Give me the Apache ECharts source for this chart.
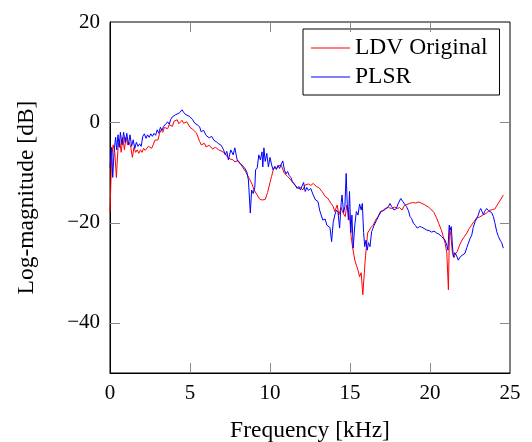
<!DOCTYPE html>
<html>
<head>
<meta charset="utf-8">
<script src="https://cdn.jsdelivr.net/npm/echarts@6/dist/echarts.min.js"></script>
<style>
html,body{margin:0;padding:0;background:#fff;}
#chart{width:532px;height:442px;}
</style>
</head>
<body>
<div id="chart"></div>
<script>
const seriesNames = ['LDV Original', 'PLSR'];
const xTicks = [0, 5, 10, 15, 20, 25];
const yTicks = [-40, -20, 0, 20];

const freqLDV = [0,0.1,0.2,0.3,0.4,0.5,0.6,0.7,0.8,0.9,1.0,1.1,1.2,1.3,1.4,1.5,1.6,1.7,1.8,1.9,2.0,2.1,2.2,2.4,2.6,2.7,2.8,3.0,3.1,3.2,3.3,3.4,3.6,3.7,3.9,4.0,4.2,4.3,4.5,4.6,4.8,5.0,5.2,5.4,5.6,5.7,5.9,6.0,6.2,6.4,6.6,6.8,7.0,7.2,7.3,7.5,7.7,7.8,8.0,8.2,8.4,8.5,8.7,8.9,9.0,9.2,9.35,9.5,9.7,9.85,10.0,10.1,10.2,10.3,10.4,10.5,10.7,10.8,10.9,11.1,11.3,11.45,11.6,11.75,11.9,12.05,12.2,12.4,12.55,12.7,12.9,13.05,13.25,13.45,13.6,13.8,13.95,14.05,14.2,14.3,14.45,14.55,14.7,14.8,14.9,15.0,15.07,15.17,15.3,15.4,15.5,15.6,15.7,15.8,15.95,16.1,16.3,16.45,16.6,16.75,16.9,17.05,17.2,17.4,17.6,17.8,17.95,18.1,18.25,18.4,18.55,18.7,18.9,19.1,19.3,19.5,19.7,19.9,20.05,20.25,20.4,20.55,20.7,20.85,20.95,21.05,21.15,21.22,21.3,21.4,21.5,21.6,21.7,21.85,22.0,22.15,22.3,22.45,22.6,22.75,22.9,23.1,23.3,23.5,23.7,23.9,24.05,24.2,24.4,24.58];
const magLDV = [-18,-7,-4.5,-6,-11,-5,-3.5,-6,-3,-5.5,-3,-4.5,-4,-5,-7,-5,-6,-5.5,-6.2,-5.5,-6,-5.2,-5.6,-4.8,-5.2,-4.5,-3.6,-3.5,-2.2,-1.5,-2.0,-1.0,-1.3,-0.5,-0.8,0.2,0.5,-0.3,0.4,-0.2,0.1,-1.0,-1.5,-2.1,-3.8,-4.5,-4.2,-4.9,-4.6,-5.3,-5.0,-5.5,-5.8,-6.2,-6.8,-7.3,-7.5,-7.9,-7.6,-8.5,-9.5,-10,-11.2,-12.5,-13.5,-14.5,-15.3,-15.5,-15.4,-14,-12,-10.8,-9.5,-8.9,-9.3,-8.8,-8.5,-9.4,-10.2,-10.8,-11.5,-12.2,-12.6,-13.2,-13.0,-13.5,-12.5,-12.3,-12.6,-12.2,-12.8,-13.0,-13.8,-14.8,-15.1,-16.1,-16.8,-17.8,-16.5,-18.5,-17.0,-18.0,-18.8,-16.5,-17.5,-19.8,-22.8,-25.1,-27.5,-28.5,-29.5,-30.8,-30.0,-34.4,-27.5,-22.1,-21.0,-20.5,-19.5,-18.8,-17.8,-17.6,-17.2,-17.0,-17.2,-16.9,-17.2,-17.0,-17.5,-16.6,-16.4,-16.2,-16.0,-16.1,-15.9,-16.2,-16.5,-16.9,-17.3,-18.0,-19.0,-20.2,-21.4,-23.0,-24.2,-26,-33.4,-21.0,-22.5,-26,-27.0,-26.2,-25.8,-24.5,-23.5,-22.8,-22.1,-21.2,-20.5,-19.8,-19.1,-18.9,-18.5,-18.2,-17.6,-17.4,-17.3,-16.5,-15.5,-14.5];

const freqPLSR = [0,0.1,0.17,0.25,0.35,0.42,0.5,0.58,0.65,0.75,0.85,0.95,1.05,1.15,1.25,1.35,1.45,1.55,1.65,1.75,1.85,1.95,2.05,2.15,2.25,2.35,2.45,2.55,2.65,2.75,2.85,2.95,3.05,3.15,3.25,3.35,3.5,3.6,3.7,3.8,3.9,4.0,4.1,4.2,4.35,4.5,4.6,4.7,4.8,4.95,5.05,5.15,5.3,5.45,5.6,5.7,5.85,6.0,6.2,6.35,6.5,6.65,6.8,6.95,7.1,7.2,7.3,7.4,7.55,7.7,7.8,7.95,8.05,8.2,8.35,8.45,8.55,8.65,8.77,8.85,8.95,9.05,9.1,9.2,9.3,9.4,9.5,9.55,9.62,9.7,9.8,9.9,10.0,10.1,10.2,10.3,10.4,10.5,10.6,10.7,10.8,10.9,11.0,11.1,11.2,11.3,11.4,11.5,11.6,11.7,11.8,11.9,12.0,12.1,12.2,12.3,12.4,12.55,12.7,12.85,13.0,13.1,13.2,13.3,13.45,13.55,13.65,13.75,13.85,13.95,14.05,14.15,14.25,14.35,14.45,14.5,14.6,14.68,14.76,14.83,14.9,14.97,15.05,15.12,15.2,15.3,15.4,15.5,15.6,15.7,15.77,15.85,15.92,16.0,16.08,16.15,16.25,16.35,16.5,16.65,16.8,16.95,17.1,17.25,17.4,17.5,17.6,17.75,17.9,18.0,18.17,18.3,18.4,18.53,18.65,18.75,18.85,18.96,19.1,19.2,19.35,19.48,19.6,19.8,19.95,20.1,20.25,20.42,20.55,20.73,20.85,20.94,21.05,21.12,21.2,21.27,21.33,21.4,21.46,21.55,21.65,21.77,21.9,22.0,22.19,22.3,22.4,22.5,22.61,22.7,22.82,22.92,23.02,23.1,23.17,23.25,23.33,23.45,23.54,23.65,23.75,23.85,23.96,24.05,24.17,24.28,24.38,24.48,24.58];
const magPLSR = [-9,-5,-11,-6,-3,-5.5,-2.5,-5,-2,-4.5,-2,-4,-2.2,-4.5,-2.5,-4.8,-3.5,-5.2,-4,-4.8,-4.3,-4.8,-2.8,-2.3,-3.2,-2.5,-3.0,-2.3,-2.8,-2.2,-2.6,-1.5,-2.2,-1.0,-1.6,-0.8,-0.3,0.1,-0.4,0.6,1.1,0.9,1.5,1.3,1.9,2.5,2.0,1.6,1.9,1.2,1.5,0.6,-0.2,-0.5,-0.9,-1.9,-1.6,-2.6,-3.1,-2.8,-3.6,-3.9,-4.3,-4.6,-5.5,-6.5,-5.8,-7.5,-5.5,-6.5,-5.1,-7.5,-8.0,-8.4,-8.9,-9.3,-9.9,-11.5,-18.1,-13.5,-14.2,-13.0,-9.5,-9.1,-6.5,-7.5,-5.9,-8.9,-5.1,-7.8,-6.2,-8.9,-7.0,-8.5,-9.5,-8.8,-9.4,-8.6,-9.2,-8.4,-7.7,-9.5,-10.3,-9.8,-10.6,-11.0,-11.8,-12.2,-12.0,-13.2,-12.8,-13.5,-13.3,-12.0,-13.8,-13.0,-13.6,-13.2,-14.5,-15.5,-15.8,-17.5,-17.8,-19.5,-19.3,-20.5,-20.3,-21.0,-23.8,-20.0,-18.5,-17.5,-18.0,-21.1,-16.0,-14.5,-18.0,-16.8,-10.2,-16.5,-19.5,-13.8,-22.0,-18.5,-25.1,-20.5,-17.8,-18.5,-16.3,-17.5,-16.2,-22.0,-24.8,-23.5,-25.5,-24.0,-24.8,-21.8,-20.6,-19.6,-18.6,-17.8,-17.6,-17.2,-16.8,-16.2,-16.8,-17.5,-17.2,-16.3,-15.2,-15.8,-16.1,-16.8,-17.6,-18.8,-19.2,-20.1,-20.6,-21.1,-20.8,-20.9,-21.2,-21.5,-21.6,-21.9,-21.7,-22.1,-22.3,-22.8,-23.1,-23.5,-24.5,-25.5,-20.5,-21.5,-20.8,-24.5,-26.8,-26.0,-26.5,-27.5,-26.8,-26.5,-26.1,-25.0,-24.1,-23.2,-22.5,-21.0,-19.8,-19.2,-18.5,-17.6,-17.2,-17.8,-18.4,-17.6,-17.2,-17.6,-17.5,-18.0,-18.8,-20.0,-21.8,-22.8,-23.5,-24.0,-25.1];

const FONT = 'Liberation Serif';
const minus = v => String(v).replace('-', '\u2212');
const X_MIN = 0, X_MAX = 25, Y_MIN = -50, Y_MAX = 20;

const chart = echarts.init(document.getElementById('chart'), null, { renderer: 'canvas' });
chart.setOption({
  animation: false,
  backgroundColor: '#fff',
  grid: { left: 110, right: 22, top: 22, bottom: 69, containLabel: false, outerBoundsMode: 'none',
          show: true, borderColor: '#000', borderWidth: 1, backgroundColor: 'transparent' },
  legend: {
    orient: 'vertical', left: 303, top: 29,
    data: seriesNames,
    icon: 'rect',
    itemWidth: 39, itemHeight: 1, itemGap: 5,
    padding: [7, 12, 6, 8],
    borderColor: '#000', borderWidth: 1, borderRadius: 0,
    backgroundColor: '#fff',
    textStyle: { fontFamily: FONT, fontSize: 23.5, color: '#000' }
  },
  xAxis: {
    type: 'value', min: X_MIN, max: X_MAX, interval: 5, position: 'bottom',
    name: 'Frequency [kHz]', nameLocation: 'middle', nameGap: 46,
    nameTextStyle: { fontFamily: FONT, fontSize: 23.5, color: '#000' },
    axisLine: { show: true, onZero: false, lineStyle: { color: '#000' } },
    axisTick: { show: false },
    axisLabel: { fontFamily: FONT, fontSize: 21, color: '#000', margin: 10, formatter: minus },
    splitLine: { show: false }
  },
  yAxis: {
    type: 'value', min: Y_MIN, max: Y_MAX, position: 'left',
    name: 'Log-magnitude [dB]', nameLocation: 'middle', nameGap: 71,
    nameTextStyle: { fontFamily: FONT, fontSize: 23.5, color: '#000' },
    axisLine: { show: true, onZero: false, lineStyle: { color: '#000' } },
    axisTick: { show: false },
    axisLabel: { fontFamily: FONT, fontSize: 21, color: '#000', margin: 10, customValues: yTicks, formatter: minus },
    splitLine: { show: false }
  },
  series: [
    { name: seriesNames[0], type: 'line', showSymbol: false, symbol: 'none',
      lineStyle: { color: '#ff0000', width: 1 }, itemStyle: { color: '#ff0000' },
      data: freqLDV.map((f, i) => [f, magLDV[i]]) },
    { name: seriesNames[1], type: 'line', showSymbol: false, symbol: 'none',
      lineStyle: { color: '#0000ff', width: 1 }, itemStyle: { color: '#0000ff' },
      data: freqPLSR.map((f, i) => [f, magPLSR[i]]) }
  ]
});

// Inward tick marks on all four sides, positioned through the chart's own scales
const TICK_LEN = 10;
const tickLine = { stroke: '#888', lineWidth: 1 };
const bottomY = chart.convertToPixel({ yAxisIndex: 0 }, Y_MIN);
const topY = chart.convertToPixel({ yAxisIndex: 0 }, Y_MAX);
const leftX = chart.convertToPixel({ xAxisIndex: 0 }, X_MIN);
const rightX = chart.convertToPixel({ xAxisIndex: 0 }, X_MAX);
const ticksG = [];
xTicks.filter(v => v > X_MIN && v < X_MAX).forEach(v => {
  const px = Math.round(chart.convertToPixel({ xAxisIndex: 0 }, v)) + 0.5;
  ticksG.push({ type: 'line', silent: true, z: 5, shape: { x1: px, y1: bottomY, x2: px, y2: bottomY - TICK_LEN }, style: tickLine });
  ticksG.push({ type: 'line', silent: true, z: 5, shape: { x1: px, y1: topY, x2: px, y2: topY + TICK_LEN }, style: tickLine });
});
yTicks.filter(v => v > Y_MIN && v < Y_MAX).forEach(v => {
  const py = Math.round(chart.convertToPixel({ yAxisIndex: 0 }, v)) + 0.5;
  ticksG.push({ type: 'line', silent: true, z: 5, shape: { x1: leftX, y1: py, x2: leftX + TICK_LEN, y2: py }, style: tickLine });
  ticksG.push({ type: 'line', silent: true, z: 5, shape: { x1: rightX, y1: py, x2: rightX - TICK_LEN, y2: py }, style: tickLine });
});
chart.setOption({ graphic: ticksG });
</script>
</body>
</html>
